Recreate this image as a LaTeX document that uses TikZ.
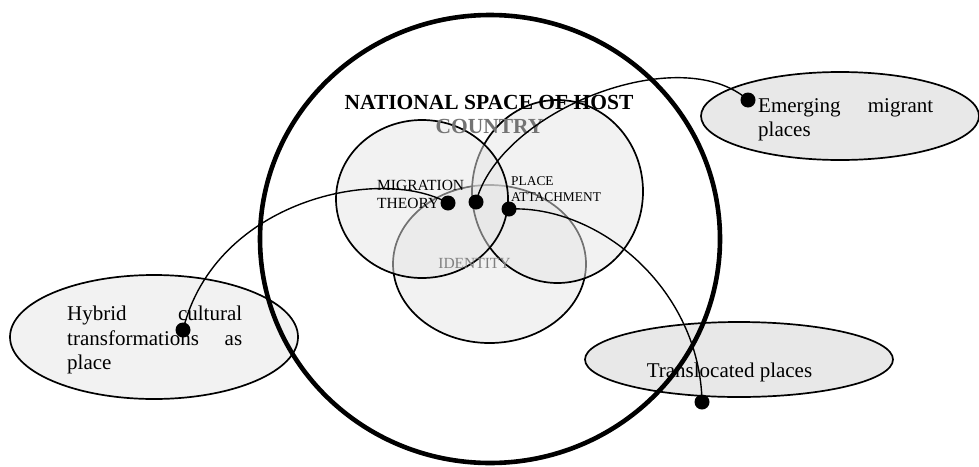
\documentclass[tikz,border=0pt]{standalone}
\usepackage{fontspec}
\setmainfont{Liberation Serif}
\usetikzlibrary{shapes.geometric}
\tikzset{
  oval/.style={ellipse, draw=black, line width=1.7pt, inner sep=0pt},
  innerbubble/.style={oval, fill=black!10, fill opacity=0.5},
  placebubble/.style={oval, fill=black!9},
  txt/.style={inner sep=0pt, font=\fontsize{21}{25}\selectfont},
  link/.style={line width=1.4pt},
  bigdot/.style={circle, fill=black, inner sep=0pt, minimum size=15pt},
}
\begin{document}
\begin{tikzpicture}[x=1pt,y=-1pt]
\useasboundingbox (0,0) rectangle (979,466);
% outer place ellipses
\node[placebubble, fill=black!5, minimum width=288pt, minimum height=124pt] (hyb) at (154,337) {};
\node[placebubble, minimum width=308pt, minimum height=75pt] (tra) at (739,359.5) {};
\node[placebubble, minimum width=278pt, minimum height=88pt] (emg) at (840,116) {};
% inner ellipses
\node[innerbubble, minimum width=193pt, minimum height=158pt] (ide) at (489.5,264) {};
\node[innerbubble, minimum width=171pt, minimum height=183pt] (pla) at (557.5,191.5) {};
\node[innerbubble, minimum width=172pt, minimum height=158pt] (mig) at (422,199) {};
% texts
\node[txt, anchor=base, font=\fontsize{21.5}{25}\selectfont\bfseries] (t1) at (489,109) {NATIONAL SPACE OF HOST};
\node[txt, anchor=base, font=\fontsize{21.5}{25}\selectfont\bfseries, text=black!55] (t2) at (489.5,133) {COUNTRY};
\node[txt, anchor=base west, font=\fontsize{15.5}{18}\selectfont] (tm1) at (377,190) {MIGRATION};
\node[txt, anchor=base west, font=\fontsize{15.5}{18}\selectfont] (tm2) at (377,208) {THEORY};
\node[txt, anchor=base west, font=\fontsize{13.4}{16}\selectfont] (tp1) at (511,185) {PLACE};
\node[txt, anchor=base west, font=\fontsize{13.4}{16}\selectfont] (tp2) at (511,201) {ATTACHMENT};
\node[txt, anchor=base, font=\fontsize{15.5}{18}\selectfont, text=black!50] (ti) at (474.5,268) {IDENTITY};
\node[txt, anchor=base west] (th1) at (67,320) {\makebox[175pt][s]{Hybrid cultural}};
\node[txt, anchor=base west] (th2) at (67,345) {\makebox[175pt][s]{transformations as}};
\node[txt, anchor=base west] (th3) at (67,369) {place};
\node[txt, anchor=base west] (te1) at (758,112) {\makebox[175pt][s]{Emerging migrant}};
\node[txt, anchor=base west] (te2) at (758,136) {places};
\node[txt, anchor=base] (tt) at (729.5,377) {Translocated places};
% national space
\node[ellipse, draw=black, line width=4.6pt, inner sep=0pt, minimum width=460pt, minimum height=448pt] (nat) at (490,239) {};
% dots
\node[bigdot] (dh) at (183,330) {};
\node[bigdot] (d1) at (448,203) {};
\node[bigdot] (d2) at (476,202) {};
\node[bigdot] (d3) at (509,209) {};
\node[bigdot] (de) at (748,100) {};
\node[bigdot] (dt) at (702,402) {};
% connectors
\draw[link] (dh.center) .. controls (215,200) and (380,165) .. (d1.center);
\draw[link] (d2.center) .. controls (500,110) and (680,40) .. (de.center);
\draw[link] (d3.center) .. controls (600,205) and (700,290) .. (dt.center);
\end{tikzpicture}
\end{document}
